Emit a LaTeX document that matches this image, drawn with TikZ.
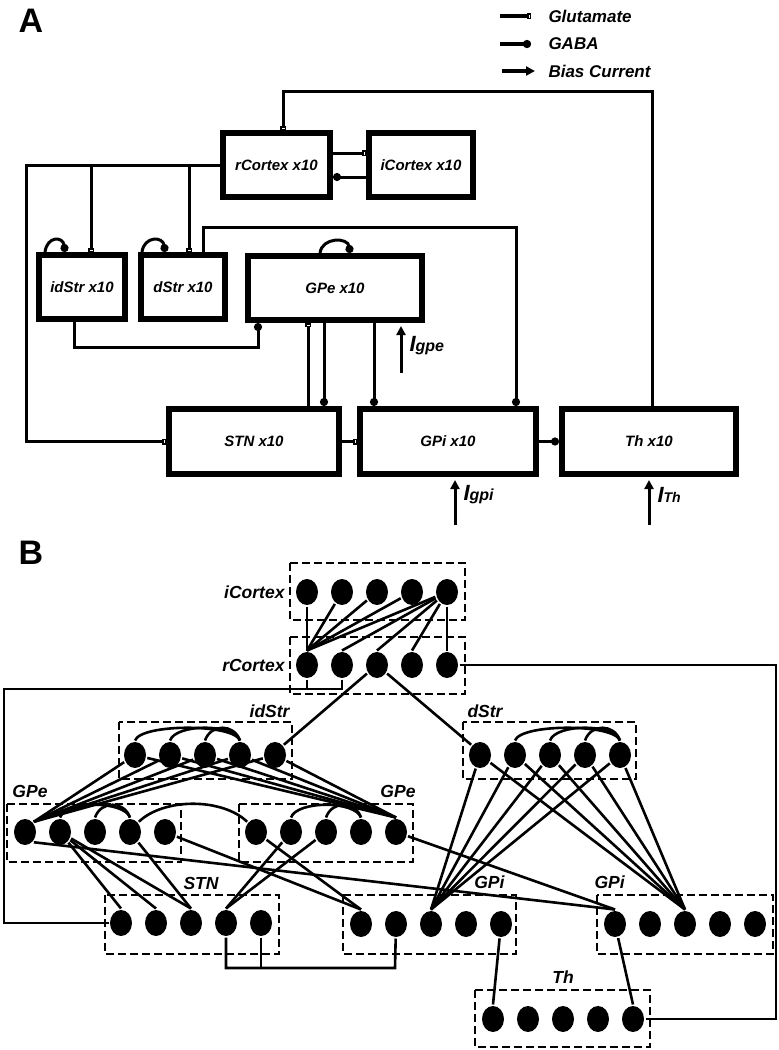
\documentclass[tikz,border=0pt]{standalone}
\usepackage{fontspec}
\setmainfont{Liberation Sans}
\usetikzlibrary{arrows.meta,shapes.geometric}

\tikzset{
  Glu/.style  = {-{Square[open,length=4pt,width=6pt,line width=1.5pt]}},
  Gaba/.style = {-{Circle[length=8pt]}},
  Bias/.style = {-{Triangle[length=9pt,width=9pt]}},
  PopBox/.style = {draw, line width=6pt, minimum height=64pt, inner sep=0pt,
                   font=\bfseries\itshape\fontsize{15}{15}\selectfont},
  Cell/.style = {ellipse, fill=black, minimum width=22pt, minimum height=26pt, inner sep=0pt},
  Group/.style = {line width=2.5pt, dash pattern=on 8pt off 4pt},
  Wire/.style = {line width=2.6pt},
  Name/.style = {font=\bfseries\itshape\fontsize{17.5}{17.5}\selectfont, inner sep=0pt},
  Legend/.style = {anchor=west, font=\bfseries\itshape\fontsize{17}{17}\selectfont, inner sep=0pt}
}

\begin{document}
\begin{tikzpicture}[x=1pt, y=-1pt, line width=3pt]
\useasboundingbox (0,0) rectangle (779,1050);

% panel A
\node[font=\bfseries\fontsize{34}{34}\selectfont] (lblA) at (31,21) {A};

% legend
\coordinate (g0) at (500,16); \coordinate (g1) at (531,16);
\coordinate (a0) at (500,44); \coordinate (a1) at (531,44);
\coordinate (c0) at (502,71); \coordinate (c1) at (535,71);
\draw[Glu, line width=4pt] (g0) -- (g1);
\draw[Gaba, line width=4pt] (a0) -- (a1);
\draw[Bias, line width=4pt] (c0) -- (c1);
\node[Legend] (tGlu) at (547,16) {Glutamate};
\node[Legend] (tGaba) at (547,44) {GABA};
\node[Legend] (tBias) at (547,71) {Bias Current};

% level 0
\node[PopBox, minimum width=107pt] (rCx) at (276.5,165) {rCortex x10};
\node[PopBox, minimum width=104pt] (iCx) at (421,165) {iCortex x10};

% level 1
\node[PopBox, minimum width=86pt] (idS) at (82,287) {idStr x10};
\node[PopBox, minimum width=84pt] (dS) at (183,287) {dStr x10};
\node[PopBox, minimum width=174pt] (GPe) at (335,288) {GPe x10};

% level 2
\node[PopBox, minimum width=170pt, minimum height=65pt] (STN) at (254,441.5) {STN x10};
\node[PopBox, minimum width=176pt, minimum height=65pt] (GPi) at (448,441.5) {GPi x10};
\node[PopBox, minimum width=174pt, minimum height=65pt] (Th) at (649,441.5) {Th x10};

\draw[Glu] (rCx.east |- 0,153) -- (iCx.west |- 0,153);
\draw[Gaba] (iCx.west |- 0,177) -- (rCx.east |- 0,177);
\draw[Glu] ([xshift=3pt]Th.north) |- ([xshift=6.5pt]rCx.north |- 0,91) -- ([xshift=6.5pt]rCx.north);
\draw[Glu] (rCx.west) -| (26,300) |- (STN.west);
\draw[Glu] ([xshift=9pt]idS.north |- rCx.west) -- ([xshift=9pt]idS.north);
\draw[Glu] ([xshift=6pt]dS.north |- rCx.west) -- ([xshift=6pt]dS.north);
\draw[Gaba] ([xshift=20pt]dS.north) |- (516,227) -- ([xshift=68pt]GPi.north);
\draw[Gaba] ([xshift=-8pt]idS.south) |- (258,347) -- ([xshift=-77pt]GPe.south);
\draw[Glu] ([xshift=54pt]STN.north) -- ([xshift=-27pt]GPe.south);
\draw[Gaba] ([xshift=-11pt]GPe.south) -- ([xshift=70pt]STN.north);
\draw[Gaba] ([xshift=39pt]GPe.south) -- ([xshift=-74pt]GPi.north);
\draw[Glu] (STN.east) -- (GPi.west);
\draw[Gaba] (GPi.east) -- (Th.west);

% self loops
\draw[Gaba] ([xshift=-37pt]idS.north) .. controls +(2,-16) and +(-2,-16) .. ([xshift=-17pt]idS.north);
\draw[Gaba] ([xshift=-41pt]dS.north) .. controls +(2,-16) and +(-2,-16) .. ([xshift=-18pt]dS.north);
\draw[Gaba] ([xshift=-15pt]GPe.north) .. controls +(2,-16) and +(-2,-16) .. ([xshift=15pt]GPe.north);

% bias currents
\coordinate (gpeB) at (401,373); \coordinate (gpeT) at (401,326);
\coordinate (gpiB) at (455,525); \coordinate (gpiT) at (455,480);
\coordinate (thB) at (649,525); \coordinate (thT) at (649,480);
\draw[Bias] (gpeB) -- (gpeT);
\draw[Bias] (gpiB) -- (gpiT);
\draw[Bias] (thB) -- (thT);
\node[anchor=west, inner sep=0pt, font=\bfseries\itshape] (Igpe) at (408,346)
    {\fontsize{22}{22}\selectfont I\fontsize{16}{16}\selectfont gpe};
\node[anchor=west, inner sep=0pt, font=\bfseries\itshape] (Igpi) at (462,495)
    {\fontsize{22}{22}\selectfont I\fontsize{16}{16}\selectfont gpi};
\node[anchor=west, inner sep=0pt, font=\bfseries\itshape] (ITh) at (656,495)
    {\fontsize{22}{22}\selectfont I\fontsize{14}{14}\selectfont Th};

% panel B
\node[font=\bfseries\fontsize{34}{34}\selectfont] (lblB) at (31,553) {B};

% groups
\draw[Group] (290,563) rectangle (465,620);
\draw[Group] (290,637) rectangle (465,694);
\draw[Group] (119,722) rectangle (292,779);
\draw[Group] (463,722) rectangle (636,779);
\draw[Group] (7,804) rectangle (181,862);
\draw[Group] (239,804) rectangle (413,862);
\draw[Group] (105,895) rectangle (279,954);
\draw[Group] (343,895) rectangle (516,954);
\draw[Group] (597,895) rectangle (773,954);
\draw[Group] (475,990) rectangle (650,1047);

\node[Name, anchor=east] (nIC) at (286,592) {iCortex};
\node[Name, anchor=east] (nRC) at (286,665) {rCortex};
\node[Name, anchor=east] (nIS) at (291,711) {idStr};
\node[Name, anchor=west] (nDS) at (466,711) {dStr};
\node[Name, anchor=west] (nGL) at (11,791) {GPe};
\node[Name, anchor=east] (nGR) at (417,791) {GPe};
\node[Name] (nST) at (201,883) {STN};
\node[Name, anchor=east] (nPL) at (506,882) {GPi};
\node[Name, anchor=west] (nPR) at (593,882) {GPi};
\node[Name] (nTh) at (563,977) {Th};

% cells
\foreach \n in {1,...,5} {
  \node[Cell] (bIC\n) at ({272+35*\n},592) {};
  \node[Cell] (bRC\n) at ({272+35*\n},665) {};
  \node[Cell] (bIS\n) at ({100+35*\n},755) {};
  \node[Cell] (bDS\n) at ({445+35*\n},755) {};
  \node[Cell] (bGL\n) at ({-10+35*\n},832) {};
  \node[Cell] (bGR\n) at ({221+35*\n},832) {};
  \node[Cell] (bST\n) at ({86+35*\n},923) {};
  \node[Cell] (bPL\n) at ({326+35*\n},924) {};
  \node[Cell] (bPR\n) at ({580+35*\n},924) {};
  \node[Cell] (bTh\n) at ({458+35*\n},1019) {};
}

% cortex
\draw[Wire] (bIC1) -- (bRC1);
\foreach \n in {2,3,4} \draw[Wire] (bIC\n) -- (bRC1.north);
\foreach \n in {1,...,5} \draw[Wire] (bIC5) -- (bRC\n.north);
\draw[Wire] (bRC1) -- (bRC1 |- 0,689);
\draw[Wire] (bRC2) |- (4,689) |- (bST1);
\draw[Wire] (bRC3) -- (bIS5.north east);
\draw[Wire] (bRC3) -- (bDS1.north west);
\draw[Wire] (bRC5) -| (776,900) |- (bTh5);

% striatum
\foreach \n in {1,2,3}
  \draw[Wire] (bIS\n.north) .. controls +(6,-17) and +(-6,-17) .. (bIS4.north);
\foreach \n in {2,3,4}
  \draw[Wire] (bDS\n.north) .. controls +(6,-17) and +(-6,-17) .. (bDS5.north);
\foreach \n in {1,...,5} {
  \draw[Wire] (bIS\n) -- (bGL1.north east);
  \draw[Wire] (bIS\n) -- (bGR5.north);
  \draw[Wire] (bDS\n) -- (bPL3.north);
  \draw[Wire] (bDS\n) -- (bPR3.north);
}

% GPe
\foreach \n in {2,3} {
  \draw[Wire] (bGL\n.north) .. controls +(6,-17) and +(-6,-17) .. (bGL4.north);
  \draw[Wire] (bGR\n.north) .. controls +(6,-17) and +(-6,-17) .. (bGR4.north);
}
\draw[Wire] (bGL4.north east) .. controls +(25,-24) and +(-25,-24) .. (bGR1.north west);
\draw[Wire] (bGL2) -- (bST1.north);
\draw[Wire] (bGL2) -- (bST2.north);
\draw[Wire] (bGL2) -- (bST3.north);
\draw[Wire] (bGL4) -- (bST3.north);
\draw[Wire] (bGR2) -- (bST4.north);
\draw[Wire] (bGR3) -- (bST4.north);
\draw[Wire] (bGL5) -- (bPL1.north);
\draw[Wire] (bGR1) -- (bPL1.north);
\draw[Wire] (bGL1.south east) -- (bPR1.north);
\draw[Wire] (bGR5) -- (bPR1.north);

% STN, GPi, Th
\draw[Wire] (bST4) |- (395,968) -- (bPL2);
\draw[Wire] (bST5) -- (bST5 |- 0,968);
\draw[Wire] (bPL5) -- (bTh1.north);
\draw[Wire] (bPR1) -- (bTh5.north);
\end{tikzpicture}
\end{document}
